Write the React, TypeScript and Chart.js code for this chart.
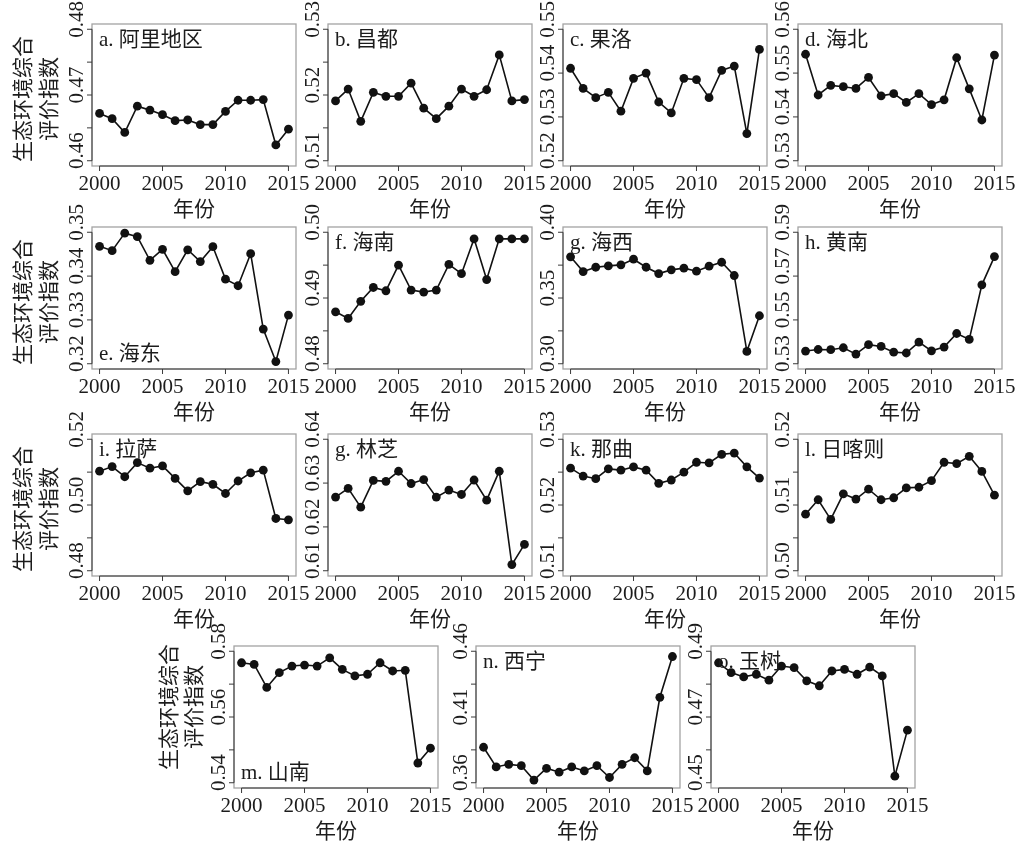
import React, { useEffect, useRef } from 'react';
import { Chart, registerables } from 'chart.js';

Chart.register(...registerables);

const W = 1020;
const H = 843;

const YEARS = [2000, 2001, 2002, 2003, 2004, 2005, 2006, 2007, 2008, 2009, 2010, 2011, 2012, 2013, 2014, 2015];
const X_TICKS = [2000, 2005, 2010, 2015];
const X_TICK_LABELS = ['2000', '2005', '2010', '2015'];
const X_TITLE = '年份';
const Y_TITLE_1 = '生态环境综合';
const Y_TITLE_2 = '评价指数';

const NAMES = ['a. 阿里地区', 'b. 昌都', 'c. 果洛', 'd. 海北', 'e. 海东', 'f. 海南', 'g. 海西', 'h. 黄南', 'i. 拉萨', 'g. 林芝', 'k. 那曲', 'l. 日喀则', 'm. 山南', 'n. 西宁', 'o. 玉树'];

const ALI = [0.4672, 0.4664, 0.4643, 0.4683, 0.4677, 0.4670, 0.4661, 0.4662, 0.4655, 0.4655, 0.4675, 0.4692, 0.4692, 0.4693, 0.4624, 0.4648];
const CHANGDU = [0.5191, 0.5209, 0.5160, 0.5204, 0.5198, 0.5198, 0.5218, 0.5180, 0.5164, 0.5183, 0.5209, 0.5198, 0.5208, 0.5261, 0.5191, 0.5193];
const GUOLUO = [0.5411, 0.5365, 0.5344, 0.5356, 0.5313, 0.5388, 0.5400, 0.5334, 0.5309, 0.5388, 0.5385, 0.5344, 0.5406, 0.5416, 0.5262, 0.5454];
const HAIBEI = [0.5543, 0.5450, 0.5472, 0.5469, 0.5465, 0.5490, 0.5448, 0.5453, 0.5433, 0.5453, 0.5428, 0.5439, 0.5535, 0.5464, 0.5393, 0.5541];
const HAIDONG = [0.3468, 0.3458, 0.3498, 0.3490, 0.3436, 0.3461, 0.3410, 0.3460, 0.3433, 0.3467, 0.3393, 0.3378, 0.3451, 0.3279, 0.3205, 0.3311];
const HAINAN = [0.4879, 0.4869, 0.4895, 0.4916, 0.4911, 0.4950, 0.4912, 0.4909, 0.4912, 0.4951, 0.4937, 0.4990, 0.4928, 0.4990, 0.4990, 0.4990];
const HAIXI = [0.3813, 0.3701, 0.3734, 0.3744, 0.3752, 0.3795, 0.3734, 0.3686, 0.3714, 0.3727, 0.3704, 0.3742, 0.3772, 0.3671, 0.3094, 0.3365];
const HUANGNAN = [0.5358, 0.5365, 0.5364, 0.5373, 0.5344, 0.5387, 0.5379, 0.5353, 0.5349, 0.5399, 0.5359, 0.5376, 0.5438, 0.5411, 0.5660, 0.5789];
const LASA = [0.5103, 0.5117, 0.5086, 0.5129, 0.5112, 0.5119, 0.5081, 0.5043, 0.5071, 0.5063, 0.5035, 0.5073, 0.5098, 0.5106, 0.4959, 0.4955];
const LINZHI = [0.6268, 0.6288, 0.6245, 0.6306, 0.6304, 0.6327, 0.6299, 0.6308, 0.6268, 0.6284, 0.6274, 0.6307, 0.6261, 0.6327, 0.6114, 0.6160];
const NAQU = [0.5256, 0.5244, 0.5240, 0.5255, 0.5253, 0.5258, 0.5253, 0.5233, 0.5238, 0.5250, 0.5265, 0.5264, 0.5277, 0.5279, 0.5258, 0.5241];
const RIKAZE = [0.5086, 0.5108, 0.5078, 0.5117, 0.5109, 0.5124, 0.5108, 0.5111, 0.5126, 0.5127, 0.5137, 0.5165, 0.5163, 0.5174, 0.5151, 0.5115];
const SHANNAN = [0.5765, 0.5760, 0.5690, 0.5735, 0.5755, 0.5758, 0.5755, 0.5780, 0.5745, 0.5725, 0.5730, 0.5765, 0.5740, 0.5742, 0.5460, 0.5505];
const XINING = [0.3870, 0.3720, 0.3740, 0.3730, 0.3620, 0.3710, 0.3680, 0.3720, 0.3690, 0.3730, 0.3640, 0.3740, 0.3790, 0.3690, 0.4250, 0.4560];
const YUSHU = [0.4865, 0.4835, 0.4822, 0.4830, 0.4812, 0.4855, 0.4850, 0.4810, 0.4795, 0.4840, 0.4845, 0.4830, 0.4852, 0.4825, 0.4520, 0.4660];

const Y_TICKS_A = [0.46, 0.465, 0.47, 0.475, 0.48];
const Y_LABELS_A = ['0.46', '', '0.47', '', '0.48'];
const Y_TICKS_B = [0.51, 0.515, 0.52, 0.525, 0.53];
const Y_LABELS_B = ['0.51', '', '0.52', '', '0.53'];
const Y_TICKS_C = [0.52, 0.53, 0.54, 0.55];
const Y_LABELS_C = ['0.52', '0.53', '0.54', '0.55'];
const Y_TICKS_D = [0.53, 0.54, 0.55, 0.56];
const Y_LABELS_D = ['0.53', '0.54', '0.55', '0.56'];
const Y_TICKS_E = [0.32, 0.33, 0.34, 0.35];
const Y_LABELS_E = ['0.32', '0.33', '0.34', '0.35'];
const Y_TICKS_F = [0.48, 0.485, 0.49, 0.495, 0.5];
const Y_LABELS_F = ['0.48', '', '0.49', '', '0.50'];
const Y_TICKS_G = [0.3, 0.325, 0.35, 0.375, 0.4];
const Y_LABELS_G = ['0.30', '', '0.35', '', '0.40'];
const Y_TICKS_H = [0.53, 0.55, 0.57, 0.59];
const Y_LABELS_H = ['0.53', '0.55', '0.57', '0.59'];
const Y_TICKS_I = [0.48, 0.49, 0.5, 0.51, 0.52];
const Y_LABELS_I = ['0.48', '', '0.50', '', '0.52'];
const Y_TICKS_J = [0.61, 0.62, 0.63, 0.64];
const Y_LABELS_J = ['0.61', '0.62', '0.63', '0.64'];
const Y_TICKS_K = [0.51, 0.515, 0.52, 0.525, 0.53];
const Y_LABELS_K = ['0.51', '', '0.52', '', '0.53'];
const Y_TICKS_L = [0.5, 0.505, 0.51, 0.515, 0.52];
const Y_LABELS_L = ['0.50', '', '0.51', '', '0.52'];
const Y_TICKS_M = [0.54, 0.55, 0.56, 0.57, 0.58];
const Y_LABELS_M = ['0.54', '', '0.56', '', '0.58'];
const Y_TICKS_N = [0.36, 0.385, 0.41, 0.435, 0.46];
const Y_LABELS_N = ['0.36', '', '0.41', '', '0.46'];
const Y_TICKS_O = [0.45, 0.46, 0.47, 0.48, 0.49];
const Y_LABELS_O = ['0.45', '', '0.47', '', '0.49'];

// layout (pixel boxes of plot regions)
const BW = 204;
const BH = 142;
const COLS = [92, 328, 563, 798];
const ROWS = [24, 227, 434, 646];
const ROW4_COLS = [234, 476, 711];

type PanelDef = {
  id: number;
  name: string;
  values: number[];
  yTicks: number[];
  yLabels: string[];
  left: number;
  top: number;
  labelBottom: boolean;
  yTitle: boolean;
  titleOff: [number, number];
  titleDy: number;
};

const SERIES = [ALI, CHANGDU, GUOLUO, HAIBEI, HAIDONG, HAINAN, HAIXI, HUANGNAN, LASA, LINZHI, NAQU, RIKAZE, SHANNAN, XINING, YUSHU];
const TICKS = [Y_TICKS_A, Y_TICKS_B, Y_TICKS_C, Y_TICKS_D, Y_TICKS_E, Y_TICKS_F, Y_TICKS_G, Y_TICKS_H, Y_TICKS_I, Y_TICKS_J, Y_TICKS_K, Y_TICKS_L, Y_TICKS_M, Y_TICKS_N, Y_TICKS_O];
const LABELS = [Y_LABELS_A, Y_LABELS_B, Y_LABELS_C, Y_LABELS_D, Y_LABELS_E, Y_LABELS_F, Y_LABELS_G, Y_LABELS_H, Y_LABELS_I, Y_LABELS_J, Y_LABELS_K, Y_LABELS_L, Y_LABELS_M, Y_LABELS_N, Y_LABELS_O];

const PANELS: PanelDef[] = SERIES.map((vals, i) => {
  const row = Math.floor(i / 4);
  const col = i % 4;
  const left = row < 3 ? COLS[col] : ROW4_COLS[col];
  return {
    id: i,
    name: NAMES[i],
    values: vals,
    yTicks: TICKS[i],
    yLabels: LABELS[i],
    left,
    top: ROWS[row],
    labelBottom: i === 4 || i === 12,
    yTitle: col === 0,
    titleOff: row < 3 ? [70, 44] : [66, 41],
    titleDy: row < 3 ? 4 : -10,
  };
});

const TEXT = '#1c1c1c';
const NUM_FONT = '21px "Liberation Serif", "Noto Sans CJK SC", serif';
const CJK_FONT = '21px "Noto Sans CJK SC", "Liberation Serif", sans-serif';

function Panel({ p }: { p: PanelDef }) {
  const ref = useRef<HTMLCanvasElement>(null);
  useEffect(() => {
    const t0 = p.yTicks[0];
    const t1 = p.yTicks[p.yTicks.length - 1];
    const pad = (t1 - t0) * 0.04;
    const xPad = (YEARS[YEARS.length - 1] - YEARS[0]) * 0.04;

    const deco = {
      id: 'deco' + p.id,
      beforeDatasetsDraw(chart: any) {
        const ctx = chart.ctx;
        const ca = chart.chartArea;
        ctx.save();
        ctx.strokeStyle = '#a3a3a3';
        ctx.lineWidth = 1.3;
        ctx.strokeRect(ca.left, ca.top, ca.right - ca.left, ca.bottom - ca.top);
        ctx.restore();
      },
      afterDraw(chart: any) {
        const ctx = chart.ctx;
        const ca = chart.chartArea;
        const xs = chart.scales.x;
        const ys = chart.scales.y;
        ctx.save();
        ctx.strokeStyle = '#3a3a3a';
        ctx.lineWidth = 1;
        const xa = xs.getPixelForValue(X_TICKS[0]);
        const xb = xs.getPixelForValue(X_TICKS[X_TICKS.length - 1]);
        ctx.beginPath();
        ctx.moveTo(xa, ca.bottom);
        ctx.lineTo(xb, ca.bottom);
        X_TICKS.forEach((v) => {
          const x = xs.getPixelForValue(v);
          ctx.moveTo(x, ca.bottom);
          ctx.lineTo(x, ca.bottom + 5);
        });
        const ya = ys.getPixelForValue(p.yTicks[0]);
        const yb = ys.getPixelForValue(p.yTicks[p.yTicks.length - 1]);
        ctx.moveTo(ca.left, ya);
        ctx.lineTo(ca.left, yb);
        p.yTicks.forEach((v) => {
          const y = ys.getPixelForValue(v);
          ctx.moveTo(ca.left, y);
          ctx.lineTo(ca.left - 5, y);
        });
        ctx.stroke();

        ctx.fillStyle = TEXT;
        ctx.font = NUM_FONT;
        ctx.textAlign = 'center';
        ctx.textBaseline = 'middle';
        X_TICKS.forEach((v, i) => {
          ctx.fillText(X_TICK_LABELS[i], xs.getPixelForValue(v), ca.bottom + 18);
        });
        p.yTicks.forEach((v, i) => {
          const lab = p.yLabels[i];
          if (!lab) return;
          ctx.save();
          ctx.translate(ca.left - 15, ys.getPixelForValue(v) - 10);
          ctx.rotate(-Math.PI / 2);
          ctx.fillText(lab, 0, 0);
          ctx.restore();
        });

        ctx.font = CJK_FONT;
        ctx.fillText(X_TITLE, (ca.left + ca.right) / 2, ca.bottom + 42);

        ctx.font = NUM_FONT;
        ctx.textAlign = 'left';
        const ly = p.labelBottom ? ca.bottom - 15 : ca.top + 16;
        ctx.fillText(p.name, ca.left + 7, ly);

        if (p.yTitle) {
          ctx.font = CJK_FONT;
          ctx.textAlign = 'center';
          const cy = (ca.top + ca.bottom) / 2 + p.titleDy;
          ctx.save();
          ctx.translate(ca.left - p.titleOff[0], cy);
          ctx.rotate(-Math.PI / 2);
          ctx.fillText(Y_TITLE_1, 0, 0);
          ctx.restore();
          ctx.save();
          ctx.translate(ca.left - p.titleOff[1], cy);
          ctx.rotate(-Math.PI / 2);
          ctx.fillText(Y_TITLE_2, 0, 0);
          ctx.restore();
        }
        ctx.restore();
      },
    };

    const chart = new Chart(ref.current as HTMLCanvasElement, {
      type: 'line',
      data: {
        datasets: [
          {
            data: YEARS.map((y, i) => ({ x: y, y: p.values[i] })),
            borderColor: '#111',
            borderWidth: 1.6,
            pointRadius: 4.4,
            pointBackgroundColor: '#111',
            pointBorderColor: '#111',
            pointBorderWidth: 0,
            tension: 0,
            clip: false as any,
          },
        ],
      },
      options: {
        responsive: false,
        animation: false,
        events: [],
        layout: {
          padding: {
            left: p.left,
            top: p.top,
            right: W - p.left - BW,
            bottom: H - p.top - BH,
          },
        },
        scales: {
          x: { type: 'linear', min: YEARS[0] - xPad, max: YEARS[YEARS.length - 1] + xPad, display: false },
          y: { type: 'linear', min: t0 - pad, max: t1 + pad, display: false },
        },
        plugins: {
          legend: { display: false },
          tooltip: { enabled: false },
          title: { display: false },
        },
      },
      plugins: [deco],
    } as any);
    return () => chart.destroy();
  }, []);
  return (
    <canvas
      ref={ref}
      width={W}
      height={H}
      style={{ position: 'absolute', left: 0, top: 0, width: W, height: H }}
    />
  );
}

export default function App() {
  return (
    <div style={{ position: 'absolute', left: 0, top: 0, width: W, height: H, background: '#ffffff', overflow: 'hidden' }}>
      {PANELS.map((p) => (
        <Panel key={p.id} p={p} />
      ))}
    </div>
  );
}
